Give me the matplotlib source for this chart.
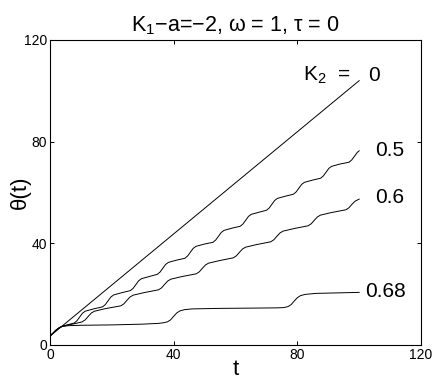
import matplotlib
matplotlib.use("Agg")
import matplotlib.pyplot as plt

plt.rcParams["font.family"] = ["Liberation Sans", "DejaVu Sans"]
plt.rcParams["mathtext.fontset"] = "custom"
plt.rcParams["mathtext.rm"] = "Liberation Sans"

# K2 = 0 : straight line
t_k0 = [0, 100]
th_k0 = [3.5, 104.0]

# K2 = 0.5
t_k05 = [0, 1, 2, 3, 4, 5.5, 7.8, 8.7, 9.6, 10.5, 11.4, 14.1,
         17.0, 17.9, 18.8, 19.7, 20.6, 23.3,
         26.0, 26.9, 27.8, 28.7, 29.6, 32.3,
         34.7, 35.6, 36.5, 37.4, 38.3, 41.0,
         43.6, 44.5, 45.4, 46.3, 47.2, 49.9,
         52.7, 53.6, 54.5, 55.4, 56.3, 59.0,
         61.5, 62.4, 63.3, 64.2, 65.1, 67.8,
         70.0, 70.9, 71.8, 72.7, 73.6, 76.3,
         78.7, 79.6, 80.5, 81.4, 82.3, 85.0,
         87.5, 88.4, 89.3, 90.2, 91.1, 93.8,
         96.7, 97.6, 98.5, 99.4, 100]
th_k05 = [3.5, 4.7, 5.9, 6.8, 7.4, 7.9, 8.6, 9.5, 11.0, 12.5, 13.3, 14.2,
          15.0, 15.9, 17.4, 18.9, 19.7, 20.6,
          21.4, 22.3, 23.8, 25.3, 26.1, 27.0,
          27.8, 28.7, 30.2, 31.7, 32.5, 33.4,
          34.1, 35.0, 36.5, 38.0, 38.8, 39.7,
          40.4, 41.3, 42.8, 44.3, 45.1, 46.0,
          46.7, 47.6, 49.1, 50.6, 51.4, 52.3,
          53.0, 53.9, 55.4, 56.9, 57.7, 58.6,
          59.3, 60.2, 61.7, 63.2, 64.0, 64.9,
          65.6, 66.5, 68.0, 69.5, 70.3, 71.2,
          71.9, 72.8, 74.3, 75.8, 76.4]

# K2 = 0.6
t_k06 = [0, 1, 2, 3, 4, 6, 8.4, 10.4, 11.4, 12.4, 13.4, 14.4, 17.9,
         22.9, 23.9, 24.9, 25.9, 26.9, 30.4,
         35.1, 36.1, 37.1, 38.1, 39.1, 42.6,
         47.3, 48.3, 49.3, 50.3, 51.3, 54.8,
         59.3, 60.3, 61.3, 62.3, 63.3, 66.8,
         71.4, 72.4, 73.4, 74.4, 75.4, 78.9,
         83.5, 84.5, 85.5, 86.5, 87.5, 91.0,
         95.7, 96.7, 97.7, 98.7, 100]
th_k06 = [3.5, 4.7, 5.9, 6.8, 7.35, 7.9, 8.5, 9.1, 9.9, 11.3, 12.6, 13.3, 14.3,
          15.4, 16.2, 17.6, 18.9, 19.6, 20.6,
          21.7, 22.5, 23.9, 25.2, 25.9, 26.9,
          28.0, 28.8, 30.2, 31.5, 32.2, 33.2,
          34.3, 35.1, 36.5, 37.8, 38.5, 39.5,
          40.6, 41.4, 42.8, 44.1, 44.8, 45.8,
          46.9, 47.7, 49.1, 50.4, 51.1, 52.1,
          53.2, 54.0, 55.4, 56.6, 57.4]

# K2 = 0.68
t_k068 = [0, 1, 2, 3, 4, 6, 10, 20, 30, 35, 36.5, 38, 39, 40, 41, 42, 43.5, 46,
          55, 65, 73, 75.5, 77, 78, 79, 80, 81, 82.5, 86, 100]
th_k068 = [3.5, 4.7, 5.9, 6.8, 7.3, 7.6, 7.75, 7.9, 8.2, 8.5, 8.7, 9.1, 9.9, 11.3,
           12.6, 13.4, 13.9, 14.2, 14.4, 14.5, 14.6, 14.7, 15.1, 15.9, 17.3, 18.6,
           19.4, 19.9, 20.3, 20.7]

xticks = [0, 40, 80, 120]
yticks = [0, 40, 80, 120]

fig = plt.figure(figsize=(4.36, 3.82), dpi=100)
ax = fig.add_axes([0.1147, 0.0969, 0.8509, 0.7984])

for t, th in [(t_k0, th_k0), (t_k05, th_k05), (t_k06, th_k06), (t_k068, th_k068)]:
    ax.plot(t, th, color="black", linewidth=0.7)

ax.text(81.9, 106.2, "K$_2$  =", fontsize=15, ha="left", va="center")
ax.text(102.9, 106.2, "0", fontsize=15, ha="left", va="center")
ax.text(105.2, 76.7, "0.5", fontsize=15, ha="left", va="center")
ax.text(105.2, 58.0, "0.6", fontsize=15, ha="left", va="center")
ax.text(102.0, 21.0, "0.68", fontsize=15, ha="left", va="center")

ax.set_xlim(0, 120)
ax.set_ylim(0, 120)
ax.set_xticks(xticks)
ax.set_yticks(yticks)
ax.tick_params(direction="in", length=3, width=0.7, labelsize=10,
               top=True, right=True, pad=2)
for sp in ax.spines.values():
    sp.set_linewidth(0.8)

ax.set_xlabel("t", fontsize=16, labelpad=-2)
ax.set_ylabel("θ(t)", fontsize=16, labelpad=-5)
ax.set_title("K$_1$−a=−2, ω = 1, τ = 0", fontsize=15.5, pad=6)

fig.savefig("out.png", dpi=100)
